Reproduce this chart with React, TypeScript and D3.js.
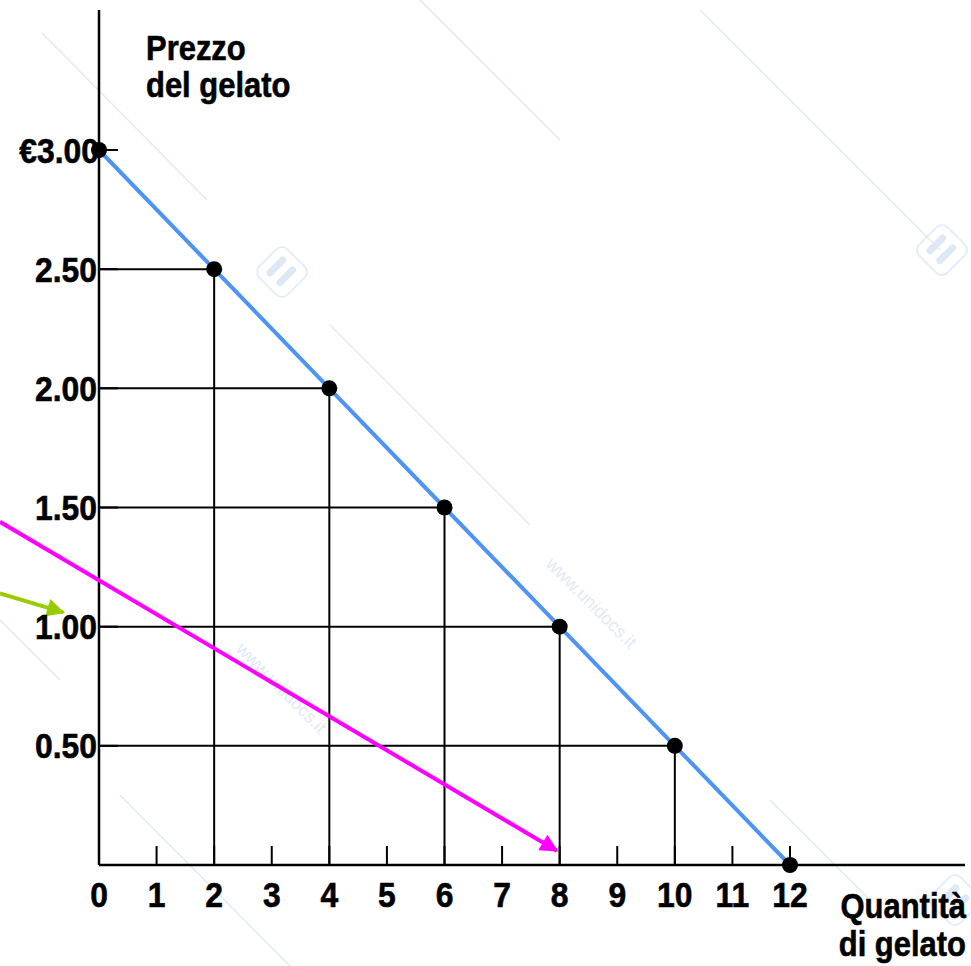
import React from "react";
import * as d3 from "d3";

const quantities = [0, 2, 4, 6, 8, 10, 12];
const prices = [3.0, 2.5, 2.0, 1.5, 1.0, 0.5, 0.0];
const xTickValues = [0, 1, 2, 3, 4, 5, 6, 7, 8, 9, 10, 11, 12];
const yTickValues = [0.5, 1.0, 1.5, 2.0, 2.5, 3.0];
const yTickLabels = ["0.50", "1.00", "1.50", "2.00", "2.50", "€3.00"];
const magentaArrow = [[-1.72, 1.44], [7.95, 0.06]];
const greenArrow = [[-1.72, 1.14], [-0.62, 1.06]];

const W = 971;
const H = 966;
const FONT = "'Liberation Sans', Arial, sans-serif";

function T({ x, y, anchor, sx, size, children }: { x: number; y: number; anchor?: string; sx: number; size: number; children: React.ReactNode }) {
  return (
    <text transform={`translate(${x},${y}) scale(${sx},1)`} textAnchor={anchor || "start"} fontSize={size}>
      {children}
    </text>
  );
}

export default function App() {
  const x = d3.scaleLinear().domain([0, 12]).range([99, 790]);
  const y = d3.scaleLinear().domain([0, 3]).range([865, 150]);
  const x0 = x(0);
  const y0 = y(0);
  const xEnd = 965;
  const yTop = 10;
  const line = d3.line<number>().x((_, i) => x(quantities[i])).y((d) => y(d));
  const wm = "#dfeaf6";
  const wmLines = [
    [42, 33, 207, 200],
    [330, 325, 530, 525],
    [700, 10, 940, 250],
    [120, 795, 290, 966],
    [770, 800, 870, 900],
    [420, 0, 560, 140],
    [0, 620, 60, 680],
  ];
  const logos = [[282, 272], [942, 250], [955, 900]];
  const NS = 35, NX = 0.91, LS = 36, LX = 0.86;

  return (
    <svg width={W} height={H} style={{ position: "absolute", left: 0, top: 0, background: "#fff" }}>
      <defs>
        <marker id="mag" viewBox="0 0 10 10" refX="9" refY="5" markerWidth="5.5" markerHeight="4.5" markerUnits="strokeWidth" orient="auto">
          <path d="M0,0 L10,5 L0,10 Z" fill="#ff00ff" />
        </marker>
        <marker id="grn" viewBox="0 0 10 10" refX="9" refY="5" markerWidth="5" markerHeight="4.5" markerUnits="strokeWidth" orient="auto">
          <path d="M0,0 L10,5 L0,10 Z" fill="#99cc00" />
        </marker>
      </defs>
      <rect width={W} height={H} fill="#fff" />
      {/* watermark */}
      <g>
        {wmLines.map((l, i) => (
          <line key={i} x1={l[0]} y1={l[1]} x2={l[2]} y2={l[3]} stroke={wm} strokeWidth={1.5} />
        ))}
        {logos.map((p, i) => (
          <g key={i} transform={`translate(${p[0]},${p[1]}) rotate(45)`}>
            <rect x={-20} y={-20} width={40} height={40} rx={8} fill="none" stroke="#e3edf8" strokeWidth={2} />
            <line x1={-8} y1={-9} x2={-8} y2={9} stroke="#dce8f4" strokeWidth={7} strokeLinecap="round" />
            <line x1={6} y1={-9} x2={6} y2={9} stroke="#dce8f4" strokeWidth={7} strokeLinecap="round" />
          </g>
        ))}
        <text x={545} y={565} transform="rotate(45 545 565)" fill={wm} fontFamily={FONT} fontSize={18}>www.unidocs.it</text>
        <text x={235} y={650} transform="rotate(45 235 650)" fill={wm} fontFamily={FONT} fontSize={18}>www.unidocs.it</text>
      </g>
      {/* drop lines */}
      {quantities.map((q, i) => (
        <g key={i}>
          {q > 0 && prices[i] > 0 && (
            <>
              <line x1={x0} y1={y(prices[i])} x2={x(q)} y2={y(prices[i])} stroke="#000" strokeWidth={2} />
              <line x1={x(q)} y1={y(prices[i])} x2={x(q)} y2={y0} stroke="#000" strokeWidth={2} />
            </>
          )}
        </g>
      ))}
      {/* tick marks */}
      {xTickValues.filter((v) => v > 0).map((v) => (
        <line key={v} x1={x(v)} y1={y0} x2={x(v)} y2={y0 - 19} stroke="#000" strokeWidth={2} />
      ))}
      {yTickValues.map((v) => (
        <line key={v} x1={x0} y1={y(v)} x2={x0 + 19} y2={y(v)} stroke="#000" strokeWidth={2} />
      ))}
      {/* axes */}
      <line x1={x0} y1={yTop} x2={x0} y2={y0} stroke="#000" strokeWidth={2.5} />
      <line x1={x0} y1={y0} x2={xEnd} y2={y0} stroke="#000" strokeWidth={2.5} />
      {/* demand line */}
      <path d={line(prices) || ""} fill="none" stroke="#4d94f5" strokeWidth={4} />
      {/* arrows */}
      <line x1={x(magentaArrow[0][0])} y1={y(magentaArrow[0][1])} x2={x(magentaArrow[1][0])} y2={y(magentaArrow[1][1])} stroke="#ff00ff" strokeWidth={4} markerEnd="url(#mag)" />
      <line x1={x(greenArrow[0][0])} y1={y(greenArrow[0][1])} x2={x(greenArrow[1][0])} y2={y(greenArrow[1][1])} stroke="#99cc00" strokeWidth={4} markerEnd="url(#grn)" />
      {/* points */}
      {quantities.map((q, i) => (
        <circle key={i} cx={x(q)} cy={y(prices[i])} r={8} fill="#000" />
      ))}
      {/* labels */}
      <g fontFamily={FONT} fontWeight="bold" fill="#000" stroke="#000" strokeWidth={0.6}>
        {xTickValues.map((v) => (
          <T key={v} x={x(v)} y={907} anchor="middle" sx={NX} size={NS}>{v}</T>
        ))}
        {yTickValues.map((v, i) => (
          <T key={v} x={i === 5 ? 99 : 97} y={y(v) + 12.5} anchor="end" sx={NX} size={NS}>{yTickLabels[i]}</T>
        ))}
        <T x={146} y={60} sx={LX} size={LS}>Prezzo</T>
        <T x={146} y={97} sx={LX} size={LS}>del gelato</T>
        <T x={966} y={918} anchor="end" sx={LX} size={LS}>Quantità</T>
        <T x={966} y={956} anchor="end" sx={LX} size={LS}>di gelato</T>
      </g>
    </svg>
  );
}
